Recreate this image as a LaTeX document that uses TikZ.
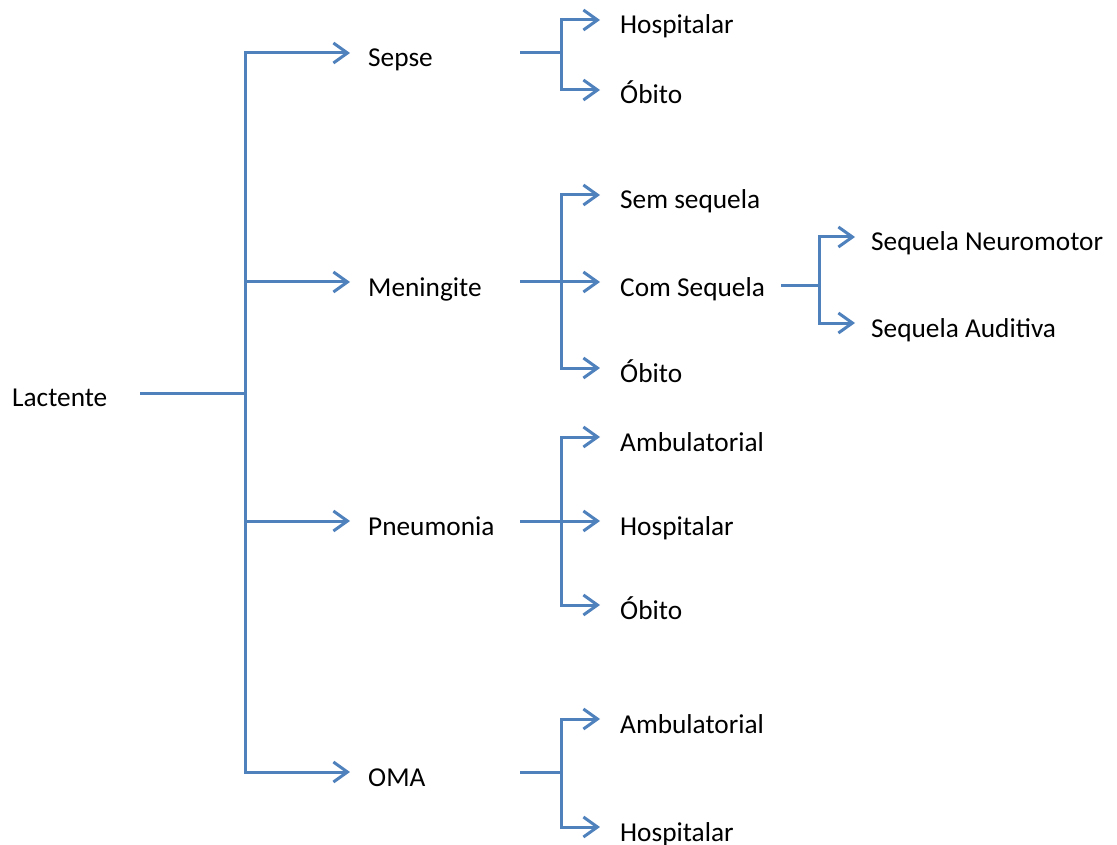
\documentclass[tikz,border=0pt]{standalone}
\usepackage{fontspec}
\setmainfont{Carlito}
\usetikzlibrary{arrows.meta}
\definecolor{lineblue}{HTML}{4F81BD}
\begin{document}
\begin{tikzpicture}[x=1pt,y=-1pt,
  ln/.style={draw=lineblue,line width=3pt},
  arr/.style={ln,-{Straight Barb[length=14pt,width=20pt,line width=3pt]}},
  lbl/.style={font=\fontsize{27.3}{30}\selectfont,text height=28pt,text depth=0pt,inner ysep=0pt,anchor=west},
  lone/.style={lbl,inner xsep=18pt},
  ltwo/.style={lbl,inner xsep=20pt},
  lthree/.style={lbl,inner xsep=16pt}]
\useasboundingbox (0,0) rectangle (1117,845);
% level 0
\node[lbl,inner xsep=0pt,text height=26pt] (lac) at (12,393) {Lactente};
\coordinate (lacout) at (140,393);
\coordinate (j1) at (245,393);
% level 1
\node[lone] (sepse) at (350,53) {Sepse};
\node[lone] (men) at (350,282) {Meningite};
\node[lone] (pne) at (350,521) {Pneumonia};
\node[lone] (oma) at (350,772) {OMA};
% level 2
\node[ltwo] (s1) at (600,20) {Hospitalar};
\node[ltwo] (s2) at (600,90) {Óbito};
\node[ltwo] (m1) at (600,195) {Sem sequela};
\node[ltwo] (m2) at (600,282) {Com Sequela};
\node[ltwo] (m3) at (600,368) {Óbito};
\node[ltwo] (p1) at (600,437) {Ambulatorial};
\node[ltwo] (p2) at (600,521) {Hospitalar};
\node[ltwo] (p3) at (600,605) {Óbito};
\node[ltwo] (o1) at (600,719) {Ambulatorial};
\node[ltwo] (o2) at (600,827) {Hospitalar};
% level 3
\node[lthree] (c1) at (855,237) {Sequela Neuromotor};
\node[lthree] (c2) at (855,323) {Sequela Auditiva};
% outgoing coordinates and junctions
\coordinate (sout) at (520,53);   \coordinate (sj) at (561,53);
\coordinate (mout) at (520,282);  \coordinate (mj) at (561,282);
\coordinate (pout) at (520,521);  \coordinate (pj) at (561,521);
\coordinate (oout) at (520,772);  \coordinate (oj) at (561,772);
\coordinate (cout) at (781,286);  \coordinate (cj) at (819,286);
% connectors level 0 -> 1
\draw[ln] (lacout) -- (j1);
\draw[arr] (j1) |- (sepse);
\draw[arr] (j1) |- (oma);
\draw[arr] (j1 |- men) -- (men);
\draw[arr] (j1 |- pne) -- (pne);
% Sepse
\draw[ln] (sout) -- (sj);
\draw[arr] (sj) |- (s1);
\draw[arr] (sj) |- (s2);
% Meningite
\draw[ln] (mout) -- (mj);
\draw[arr] (mj) |- (m1);
\draw[arr] (mj) |- (m3);
\draw[arr] (mj) -- (m2);
% Com Sequela
\draw[ln] (cout) -- (cj);
\draw[arr] (cj) |- (c1);
\draw[arr] (cj) |- (c2);
% Pneumonia
\draw[ln] (pout) -- (pj);
\draw[arr] (pj) |- (p1);
\draw[arr] (pj) |- (p3);
\draw[arr] (pj) -- (p2);
% OMA
\draw[ln] (oout) -- (oj);
\draw[arr] (oj) |- (o1);
\draw[arr] (oj) |- (o2);
\end{tikzpicture}
\end{document}
